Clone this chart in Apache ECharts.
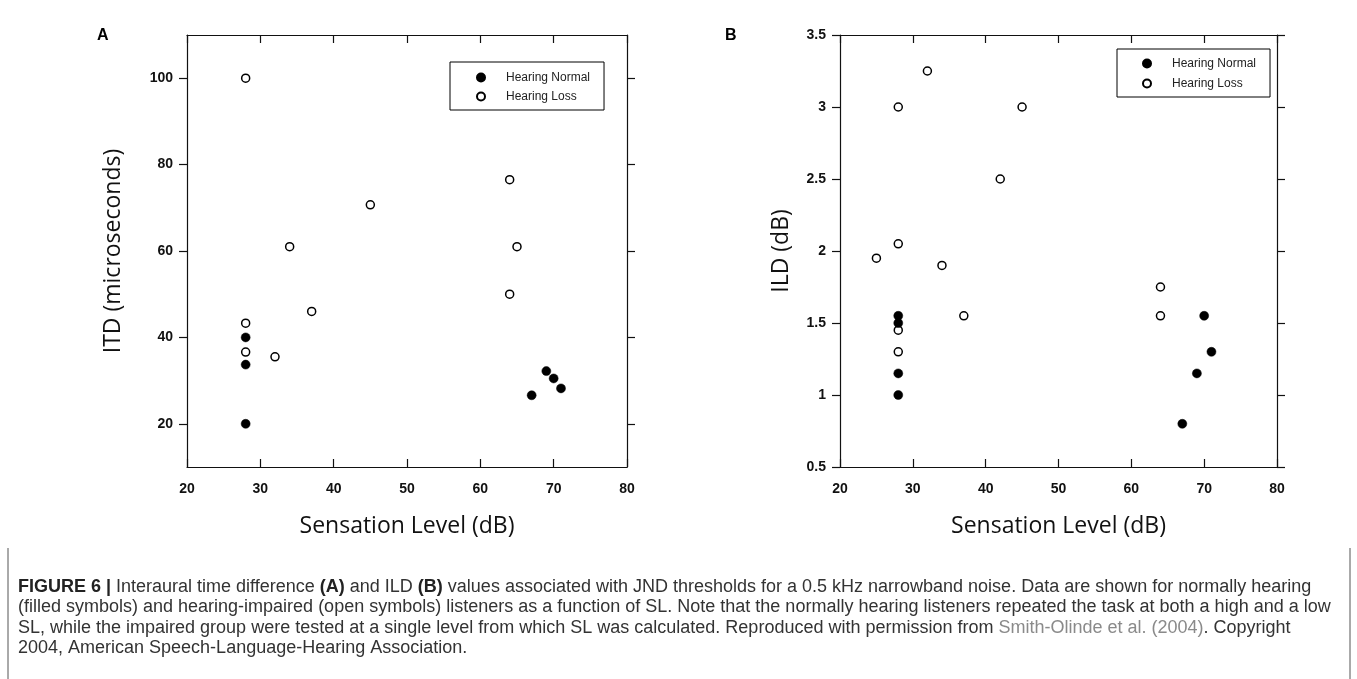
<!DOCTYPE html>
<html>
<head>
<meta charset="utf-8">
<script src="https://cdn.jsdelivr.net/npm/echarts@6/dist/echarts.min.js"></script>
<style>
html,body{margin:0;padding:0;background:#fff;}
#chart{width:1357px;height:679px;}
</style>
</head>
<body>
<div id="chart"></div>
<script>
// ---- data ----
const seriesNames = ['Hearing Normal', 'Hearing Loss'];
const xTicks = [20, 30, 40, 50, 60, 70, 80];
const yTicksA = [20, 40, 60, 80, 100];
const yTicksB = [0.5, 1, 1.5, 2, 2.5, 3, 3.5];
// Panel A: ITD (microseconds) vs Sensation Level (dB)
const itdNormal = [[28, 40], [28, 33.7], [28, 20], [67, 26.6], [69, 32.2], [70, 30.5], [71, 28.2]];
const itdLoss = [[28, 100], [28, 43.3], [28, 36.6], [32, 35.5], [34, 61], [37, 46], [45, 70.7], [64, 76.5], [65, 61], [64, 50]];
// Panel B: ILD (dB) vs Sensation Level (dB)
const ildNormal = [[28, 1.55], [28, 1.5], [28, 1.15], [28, 1.0], [67, 0.8], [69, 1.15], [70, 1.55], [71, 1.3]];
const ildLoss = [[32, 3.25], [28, 3.0], [45, 3.0], [42, 2.5], [28, 2.05], [25, 1.95], [34, 1.9], [37, 1.55], [64, 1.75], [64, 1.55], [28, 1.45], [28, 1.3]];
const captionLines = [
  '{b|FIGURE 6 |} Interaural time difference {b|(A)} and ILD {b|(B)} values associated with JND thresholds for a 0.5 kHz narrowband noise. Data are shown for normally hearing',
  '(filled symbols) and hearing-impaired (open symbols) listeners as a function of SL. Note that the normally hearing listeners repeated the task at both a high and a low',
  'SL, while the impaired group were tested at a single level from which SL was calculated. Reproduced with permission from {g|Smith-Olinde et al. (2004)}. Copyright',
  '2004, American Speech-Language-Hearing Association.'
];

// ---- styles ----
const AX = '#111';
const tickFont = {fontFamily: 'Liberation Sans', fontWeight: 'bold', fontSize: 14, color: '#111'};
const titleFont = {fontFamily: 'Open Sans', fontSize: 23, color: '#111'};

function xAxes(gridIndex) {
  return [
    {
      gridIndex, type: 'value', min: xTicks[0], max: xTicks[xTicks.length - 1], interval: 10,
      position: 'bottom',
      axisLine: {lineStyle: {color: AX, width: 1.2}},
      axisTick: {inside: true, length: 8, lineStyle: {color: AX, width: 1.2}},
      axisLabel: Object.assign({margin: 15}, tickFont),
      splitLine: {show: false},
      name: 'Sensation Level (dB)', nameLocation: 'middle', nameGap: 48,
      nameTextStyle: titleFont
    },
    {
      gridIndex, type: 'value', min: xTicks[0], max: xTicks[xTicks.length - 1], interval: 10,
      position: 'top',
      axisLine: {lineStyle: {color: AX, width: 1.2}},
      axisTick: {inside: true, length: 8, lineStyle: {color: AX, width: 1.2}},
      axisLabel: {show: false},
      splitLine: {show: false}
    }
  ];
}
function yAxes(gridIndex, min, max, ticks, name, nameGap) {
  return [
    {
      gridIndex, type: 'value', min, max, position: 'left',
      axisLine: {show: true, lineStyle: {color: AX, width: 1.2}},
      axisTick: {show: true, inside: false, length: 8, customValues: ticks, lineStyle: {color: AX, width: 1.2}},
      axisLabel: Object.assign({margin: 14, customValues: ticks}, tickFont),
      splitLine: {show: false},
      name, nameLocation: 'middle', nameGap, nameTextStyle: titleFont
    },
    {
      gridIndex, type: 'value', min, max, position: 'right',
      axisLine: {show: true, lineStyle: {color: AX, width: 1.2}},
      axisTick: {show: true, inside: false, length: 8, customValues: ticks, lineStyle: {color: AX, width: 1.2}},
      axisLabel: {show: false, customValues: ticks},
      splitLine: {show: false}
    }
  ];
}
function filled(name, xi, yi, data) {
  return {name, type: 'scatter', xAxisIndex: xi, yAxisIndex: yi, data, symbol: 'circle', symbolSize: 9,
    itemStyle: {color: '#000', borderColor: '#000', borderWidth: 0.5, opacity: 1}, z: 3};
}
function open(name, xi, yi, data) {
  return {name, type: 'scatter', xAxisIndex: xi, yAxisIndex: yi, data, symbol: 'circle', symbolSize: 8,
    itemStyle: {color: '#fff', borderColor: '#000', borderWidth: 1.5, opacity: 1}, z: 2};
}
function legend(left, top, padding, itemGap) {
  return {
    data: seriesNames, orient: 'vertical', left, top, padding,
    borderColor: '#000', borderWidth: 1, backgroundColor: '#fff',
    itemWidth: 40, itemHeight: 8, itemGap,
    textStyle: {fontFamily: 'Liberation Sans', fontSize: 12, color: '#222', lineHeight: 13}
  };
}

const chart = echarts.init(document.getElementById('chart'), null, {renderer: 'canvas'});
const option = {
  backgroundColor: '#fff',
  animation: false,
  grid: [
    {left: 187, top: 35, width: 440, height: 432},
    {left: 840, top: 35, width: 437, height: 432}
  ],
  xAxis: [...xAxes(0), ...xAxes(1)],
  yAxis: [...yAxes(0, 10, 110, yTicksA, 'ITD (microseconds)', 62), ...yAxes(1, 0.5, 3.5, yTicksB, 'ILD (dB)', 47)],
  legend: [legend(450, 62, [9, 14, 7, 26], 6), legend(1117, 49, [8, 14, 7, 25], 7)],
  series: [
    filled(seriesNames[0], 0, 0, itdNormal),
    open(seriesNames[1], 0, 0, itdLoss),
    filled(seriesNames[0], 2, 2, ildNormal),
    open(seriesNames[1], 2, 2, ildLoss)
  ],
  graphic: [
    {type: 'text', left: 97, top: 28, style: {text: 'A', font: 'bold 16px "Liberation Sans"', fill: '#000'}},
    {type: 'text', left: 725, top: 28, style: {text: 'B', font: 'bold 16px "Liberation Sans"', fill: '#000'}},
    {type: 'line', shape: {x1: 8, y1: 548, x2: 8, y2: 679}, style: {stroke: '#555', lineWidth: 1}},
    {type: 'line', shape: {x1: 1350, y1: 548, x2: 1350, y2: 679}, style: {stroke: '#555', lineWidth: 1}},
    ...captionLines.map((t, i) => ({
      type: 'text', left: 18, top: 578 + i * 20.5,
      style: {
        text: t, fontFamily: 'Liberation Sans', fontSize: 18, fill: '#333',
        rich: {
          b: {fontFamily: 'Liberation Sans', fontSize: 18, fontWeight: 'bold', fill: '#222'},
          g: {fontFamily: 'Liberation Sans', fontSize: 18, fill: '#8a8a8a'}
        }
      }
    }))
  ]
};
chart.setOption(option);
</script>
</body>
</html>
